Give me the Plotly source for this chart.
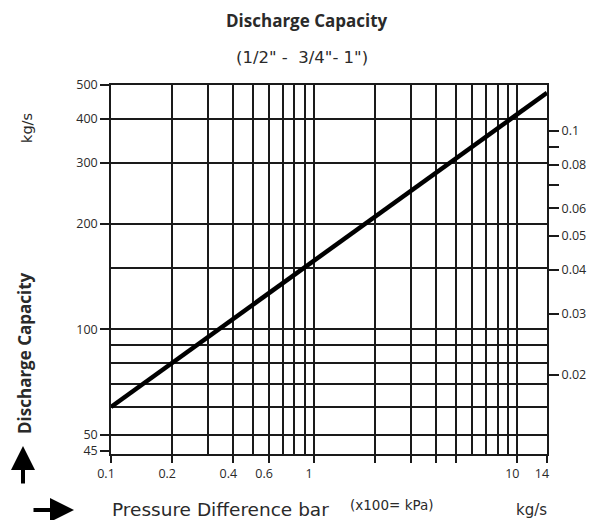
import math
import plotly.graph_objects as go

# ---------------- data ----------------
line_x = [0.1, 14]          # pressure difference, bar
line_y = [60, 475]          # discharge capacity, kg/s (left scale)

x_tick_vals = [0.1, 0.2, 0.4, 0.6, 1, 2, 3, 4, 5, 10, 14]
x_tick_text = ["0.1", "0.2", "0.4", "0.6", "1", "", "", "", "", "10", "14"]
x_grid_extra = [0.3, 0.5, 0.7, 0.8, 0.9, 6, 7, 8, 9]

y_tick_vals = [45, 50, 100, 200, 300, 400, 500]
y_tick_text = ["45", "50", "100", "200", "300", "400", "500"]
y_grid_vals = [50, 60, 70, 80, 90, 100, 150, 200, 300, 400]

right_tick_vals = [0.02, 0.03, 0.04, 0.05, 0.06, 0.07, 0.08, 0.09, 0.1]
right_tick_text = ["0.02", "0.03", "0.04", "0.05", "0.06", "", "0.08", "", "0.1"]
right_factor = 3700

x_range = [0.1, 14]
y_range = [44, 500]

# ---------------- layout helpers ----------------
W, H = 602, 520
L, R, T, B = 111, 55, 85, 66
PW, PH = W - L - R, H - T - B


def px(x):
    return (x - L) / PW


def py(y):
    return (H - B - y) / PH


INK = "#1a1a1a"
TXT = "#2a2a2a"
tick_font = dict(family="Open Sans", size=12.5, color=TXT)

fig = go.Figure()
fig.add_trace(go.Scatter(x=line_x, y=line_y, mode="lines",
                         line=dict(color="black", width=4.5),
                         showlegend=False, hoverinfo="skip"))
fig.add_trace(go.Scatter(x=line_x, y=[v / right_factor for v in line_y],
                         mode="lines", yaxis="y2", opacity=0,
                         showlegend=False, hoverinfo="skip"))

GW = 1.5

fig.update_layout(
    width=W, height=H, autosize=False,
    margin=dict(l=L, r=R, t=T, b=B, pad=0),
    paper_bgcolor="white", plot_bgcolor="white",
    showlegend=False,
    xaxis=dict(
        type="log", range=[math.log10(x_range[0]), math.log10(x_range[1])],
        tickmode="array", tickvals=x_tick_vals, ticktext=x_tick_text,
        ticks="outside", ticklen=7, tickwidth=GW, tickcolor=INK,
        showline=True, linecolor=INK, linewidth=GW, mirror=True,
        showgrid=True, gridcolor=INK, gridwidth=GW,
        minor=dict(tickvals=x_grid_extra, showgrid=True, gridcolor=INK,
                   gridwidth=GW, ticks=""),
        zeroline=False, tickfont=tick_font, ticklabelshift=-5,
    ),
    yaxis=dict(
        type="log", range=[math.log10(y_range[0]), math.log10(y_range[1])],
        tickmode="array", tickvals=y_tick_vals, ticktext=y_tick_text,
        ticks="outside", ticklen=9, tickwidth=GW, tickcolor=INK,
        showline=True, linecolor=INK, linewidth=GW, mirror=True,
        showgrid=False,
        minor=dict(tickvals=y_grid_vals, showgrid=True, gridcolor=INK,
                   gridwidth=GW, ticks=""),
        zeroline=False, tickfont=tick_font,
    ),
    yaxis2=dict(
        type="log", overlaying="y", side="right",
        range=[math.log10(y_range[0] / right_factor),
               math.log10(y_range[1] / right_factor)],
        tickmode="array", tickvals=right_tick_vals, ticktext=right_tick_text,
        ticks="outside", ticklen=11, tickwidth=GW, tickcolor=INK,
        showline=False, showgrid=False, zeroline=False, tickfont=tick_font,
    ),
)

ann = []
ann.append(dict(text="<b>Discharge Capacity</b>", x=px(307), y=py(20),
                font=dict(family="Open Sans", size=17, color=TXT)))
ann.append(dict(text="(1/2\" -  3/4\"- 1\")", x=px(302), y=py(58),
                font=dict(family="DejaVu Sans", size=16.5, color=TXT)))
ann.append(dict(text="kg/s", x=px(27), y=py(128), textangle=-90,
                font=dict(family="DejaVu Sans", size=14.5, color=TXT)))
ann.append(dict(text="<b>Discharge Capacity</b>", x=px(24), y=py(353),
                textangle=-90,
                font=dict(family="Open Sans", size=17, color=TXT)))
ann.append(dict(text="Pressure Difference bar", x=px(110), y=py(509),
                xanchor="left",
                font=dict(family="DejaVu Sans", size=18.5, color=TXT)))
ann.append(dict(text="(x100= kPa)", x=px(348), y=py(505), xanchor="left",
                font=dict(family="DejaVu Sans", size=13.5, color=TXT)))
ann.append(dict(text="kg/s", x=px(531), y=py(510),
                font=dict(family="DejaVu Sans", size=15, color=TXT)))
for a in ann:
    a.update(xref="paper", yref="paper", showarrow=False)
    a.setdefault("xanchor", "center")
    a.setdefault("yanchor", "middle")

# arrows
ann.append(dict(text="", x=px(23), y=py(446), ax=0, ay=39,
                xref="paper", yref="paper", showarrow=True,
                arrowhead=2, arrowsize=1.2, arrowwidth=4, arrowcolor="black"))
ann.append(dict(text="", x=px(74), y=py(510), ax=-42, ay=0,
                xref="paper", yref="paper", showarrow=True,
                arrowhead=2, arrowsize=1.2, arrowwidth=4, arrowcolor="black"))

fig.update_layout(annotations=ann)
fig.write_html("out.html",
               config={"displayModeBar": False},
               post_script="document.body.style.margin='0';"
                           "document.body.style.overflow='hidden';")
